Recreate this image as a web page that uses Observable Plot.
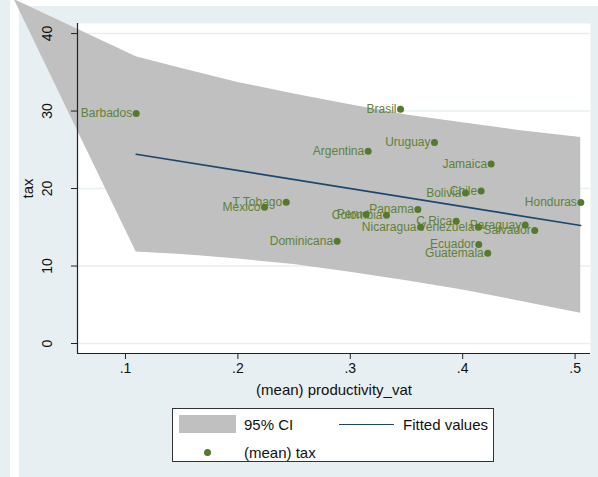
<!DOCTYPE html>
<html><head><meta charset="utf-8">
<script src="https://cdn.jsdelivr.net/npm/d3@7"></script>
<script src="https://cdn.jsdelivr.net/npm/@observablehq/plot@0.6"></script>
<style>
html,body{margin:0;padding:0;}
body{width:598px;height:477px;background:#e7eff2;position:relative;overflow:hidden;font-family:"Liberation Sans",Arial,sans-serif;}
#stripL{position:absolute;left:10px;top:0;width:9px;height:477px;background:#fff;}
#stripT{position:absolute;left:10px;top:0;width:588px;height:6px;background:#fff;}
#chart{position:absolute;left:0;top:0;}
#legend{position:absolute;left:172px;top:408px;width:320px;height:52px;background:#fff;border:1px solid #333;font-size:15px;color:#111;}
#legend .sw{position:absolute;left:6px;top:6px;width:57px;height:18px;background:#c0c0c0;}
#legend .ln{position:absolute;left:166px;top:15px;width:55px;height:0;border-top:1.5px solid #1a476f;}
#legend .dt{position:absolute;left:31px;top:40px;width:7px;height:7px;border-radius:50%;background:#557a2c;}
#legend .t{position:absolute;line-height:16px;white-space:nowrap;}
</style>
</head><body>
<div id="stripL"></div><div id="stripT"></div>
<div id="chart"></div>
<div id="legend">
  <div class="sw"></div><div class="t" style="left:71px;top:8px">95% CI</div>
  <div class="ln"></div><div class="t" style="left:230px;top:8px">Fitted values</div>
  <div class="dt"></div><div class="t" style="left:71px;top:36px">(mean) tax</div>
</div>
<script>
const countries = ["Barbados","T Tobago","Mexico","Dominicana","Brasil","Uruguay","Argentina","Jamaica","Chile","Bolivia","Honduras","Panama","Peru","Colombia","C Rica","Nicaragua","Venezuela","Paraguay","Salvador","Ecuador","Guatemala"];
const prodVat   = [0.1095,0.243,0.2237,0.2883,0.3447,0.3749,0.3159,0.4253,0.4164,0.4025,0.5051,0.3601,0.3141,0.3322,0.3942,0.3625,0.414,0.4556,0.4641,0.4143,0.4223];
const tax       = [29.68,18.23,17.59,13.2,30.23,25.94,24.81,23.18,19.69,19.43,18.19,17.29,16.64,16.55,15.78,15.0,15.0,15.31,14.58,12.77,11.65];
const fitX = [0.1095, 0.505];
const fitY = [24.43, 15.23];
const ciX  = [0.001, 0.1095, 0.15, 0.2, 0.25, 0.3, 0.35, 0.4, 0.45, 0.505];
const ciLo = [44.4, 11.8, 11.5, 10.9, 10.2, 9.2, 8.1, 6.9, 5.5, 3.9];
const ciHi = [44.4, 37.0, 35.5, 33.7, 32.2, 30.8, 29.5, 28.5, 27.5, 26.6];
const xTicks = [0.1, 0.2, 0.3, 0.4, 0.5];
const xTickLabels = [".1", ".2", ".3", ".4", ".5"];
const yTicks = [0, 10, 20, 30, 40];
const xTitle = "(mean) productivity_vat";
const yTitle = "tax";

const pts = countries.map((c, i) => ({c, x: prodVat[i], y: tax[i]}));
const fit = fitX.map((x, i) => ({x, y: fitY[i]}));
const ci = ciX.map((x, i) => ({x, lo: ciLo[i], hi: ciHi[i]}));
const xDom = [0.0573, 0.5137], yDom = [-1.29, 41.3];

const chart = Plot.plot({
  width: 598, height: 400,
  marginLeft: 77, marginRight: 8, marginTop: 23, marginBottom: 47,
  style: {background: "transparent", fontFamily: "'Liberation Sans', Arial, sans-serif", fontSize: "14px", overflow: "visible", color: "#111"},
  x: {domain: xDom},
  y: {domain: yDom},
  marks: [
    Plot.frame({fill: "white", stroke: null}),
    Plot.gridY(yTicks, {stroke: "#e7eff2", strokeOpacity: 1, strokeWidth: 1.5}),
    Plot.areaY(ci, {x: "x", y1: "lo", y2: "hi", fill: "#c0c0c0", fillOpacity: 1, curve: "linear"}),
    Plot.line(fit, {x: "x", y: "y", stroke: "#1a476f", strokeWidth: 1.6}),
    Plot.text(pts, {x: "x", y: "y", text: "c", textAnchor: "end", lineAnchor: "middle", dx: -4, fill: "#5f8236", fontSize: 12}),
    Plot.dot(pts, {x: "x", y: "y", r: 3.5, fill: "#557a2c", stroke: null}),
    Plot.ruleX([xDom[0]], {stroke: "#222", strokeWidth: 1.2}),
    Plot.ruleY([yDom[0]], {stroke: "#222", strokeWidth: 1.2}),
    Plot.axisX({ticks: xTicks, tickFormat: d => xTickLabels[xTicks.indexOf(d)], tickSize: 6, tickPadding: 4, fontSize: 14, label: null, stroke: "#222"}),
    Plot.axisY({ticks: yTicks, tickFormat: () => "", tickSize: 6, label: null, stroke: "#222"}),
    Plot.text(yTicks, {y: d => d, text: d => String(d), frameAnchor: "left", textAnchor: "middle", lineAnchor: "middle", rotate: -90, dx: -30, fontSize: 14, fill: "#111"}),
    Plot.text([yTitle], {frameAnchor: "left", textAnchor: "middle", lineAnchor: "middle", rotate: -90, dx: -49, fontSize: 15, fill: "#111"}),
    Plot.text([xTitle], {frameAnchor: "bottom", textAnchor: "middle", lineAnchor: "middle", dy: 37, fontSize: 15, fill: "#111"})
  ]
});
document.getElementById("chart").appendChild(chart);
</script>
</body></html>
